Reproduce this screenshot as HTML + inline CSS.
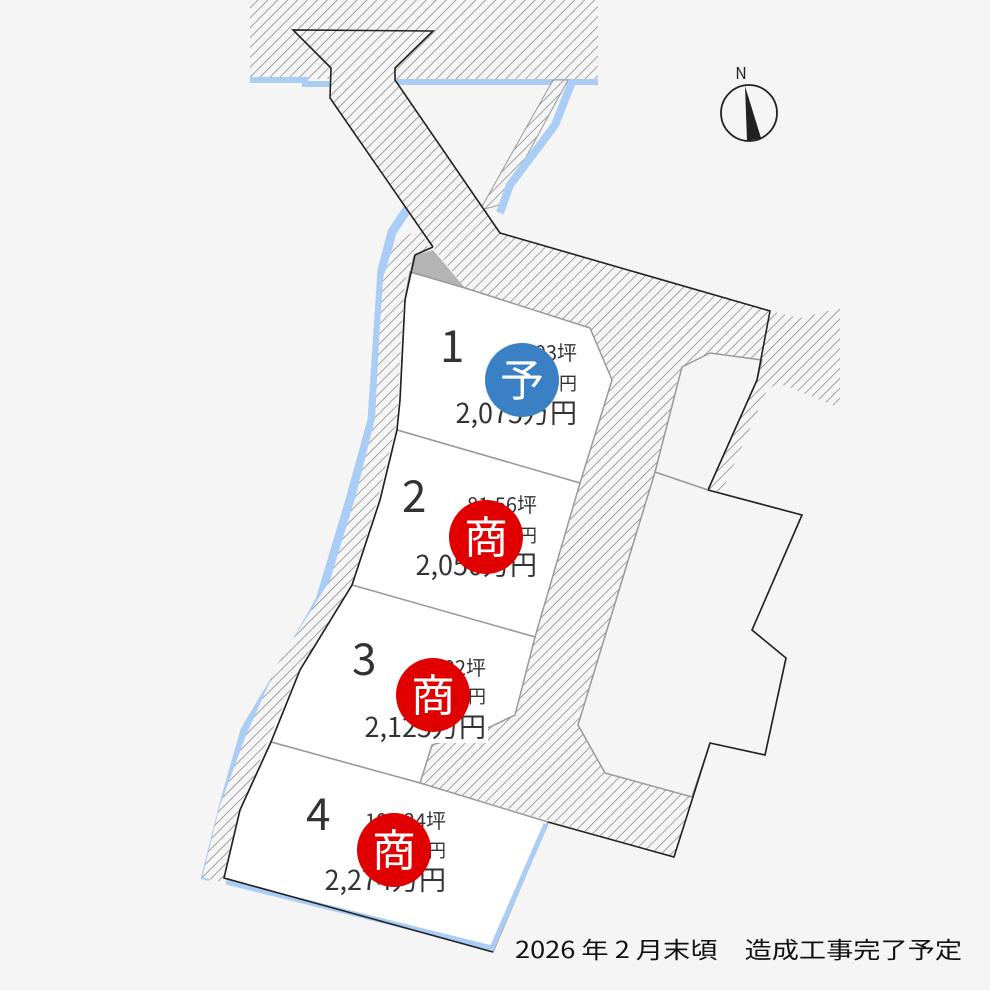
<!DOCTYPE html>
<html><head><meta charset="utf-8"><style>
html,body{margin:0;padding:0;background:#f5f5f5;}
svg{display:block;}
text{font-family:"Noto Sans CJK JP","Liberation Sans",sans-serif;}
</style></head><body>
<svg width="990" height="990" viewBox="0 0 990 990" xmlns="http://www.w3.org/2000/svg">
<defs>
<pattern id="h" width="7" height="7" patternUnits="userSpaceOnUse" patternTransform="rotate(45)">
<rect width="7" height="7" fill="#f5f5f5"/>
<line x1="0" y1="0" x2="0" y2="7" stroke="#8e8e8e" stroke-width="1.6"/>
</pattern>
</defs>
<rect width="990" height="990" fill="#f5f5f5"/>
<rect x="250" y="0" width="348" height="79" fill="url(#h)"/>
<polyline points="250,80 305,80 305,84 330,84" fill="none" stroke="#aacdf5" stroke-width="6"/>
<line x1="395" y1="82" x2="598" y2="82" stroke="#aacdf5" stroke-width="6"/>
<polygon points="553,80 568,80 500,205 480,210" fill="url(#h)" stroke="#999" stroke-width="1"/>
<polyline points="572,82 555,125 510,185 500,213" fill="none" stroke="#aacdf5" stroke-width="8"/>
<polyline points="410,205 392,232 382,270 378,330 372,420 350,500 320,600 275,680 245,730 225,800 205,880" fill="none" stroke="#aacdf5" stroke-width="9"/>
<polyline points="425,240 404,248 394,280 390,340 386,420 366,500 340,585 288,668 256,740 230,810 213,880" fill="none" stroke="url(#h)" stroke-width="22"/>
<polygon points="293,30 433,31 395,68 395,80 500,233 770,311 757,380 708,490 655,472 578,725 605,773 692,797 674,857 420,783 432,745 490,727 515,715 535,637 580,483 612,380 590,328 465,288 433,247 330,98 331,68" fill="url(#h)"/>
<polygon points="770,311 800,318 840,308 840,408 780,384 768,388 722,492 708,490 757,380" fill="url(#h)"/>
<polygon points="682,367 710,353 762,360 757,380 708,490 802,515 752,630 786,658 765,755 710,743 692,797 605,773 578,725 655,472" fill="#f5f5f5" stroke="#999" stroke-width="1.5"/>
<polygon points="413,256 433,250 465,288 410,272" fill="#b4b4b4"/>
<polygon points="410,272 465,288 590,328 612,380 580,483 397,430 400,400 405,300" fill="#fff" stroke="#999" stroke-width="1.5"/>
<polygon points="397,430 580,483 535,637 352,585 380,500" fill="#fff" stroke="#999" stroke-width="1.5"/>
<polygon points="352,585 535,637 515,715 490,727 432,745 420,783 271,742 300,670" fill="#fff" stroke="#999" stroke-width="1.5"/>
<polygon points="271,742 420,783 548,822 493,952 224,878 240,810" fill="#fff" stroke="#999" stroke-width="1.5"/>
<polyline points="226,882 492,948 546,824" fill="none" stroke="#aacdf5" stroke-width="5"/>
<g fill="none" stroke="#222" stroke-width="1.6">
<polyline points="433,247 330,98 331,68 293,30 433,31 395,68 395,80 500,233 770,311 757,380 708,490 802,515 752,630 786,658 765,755 710,743 692,800 674,857 548,822"/>
<polyline points="433,247 415,255 405,300 400,400 397,430 380,500 352,585 300,670 271,742 240,810 224,878 493,952"/>
</g>
<line x1="655" y1="472" x2="708" y2="490" stroke="#999" stroke-width="1.5"/>
<g fill="#333">
<text x="440" y="362" font-size="44">1</text>
<text x="577" y="360" font-size="20" text-anchor="end">80.03坪</text>
<text x="577" y="390" font-size="18" text-anchor="end">2,180万円</text>
<text x="577" y="423" font-size="27" text-anchor="end">2,075万円</text>
<text x="402" y="512" font-size="44">2</text>
<text x="537" y="512" font-size="20" text-anchor="end">81.56坪</text>
<text x="537" y="542" font-size="18" text-anchor="end">2,150万円</text>
<text x="537" y="575" font-size="27" text-anchor="end">2,050万円</text>
<text x="352" y="675" font-size="44">3</text>
<rect x="366" y="713" width="122" height="30" fill="#fff"/>
<text x="486" y="675" font-size="20" text-anchor="end">84.02坪</text>
<text x="486" y="703" font-size="18" text-anchor="end">2,230万円</text>
<text x="486" y="737" font-size="27" text-anchor="end">2,125万円</text>
<text x="306" y="830" font-size="44">4</text>
<text x="446" y="828" font-size="20" text-anchor="end">102.24坪</text>
<text x="446" y="857" font-size="18" text-anchor="end">2,380万円</text>
<text x="446" y="890" font-size="27" text-anchor="end">2,274万円</text>
</g>
<circle cx="522" cy="380" r="37" fill="#3a80c4"/>
<text x="522" y="396" font-size="44" fill="#fff" text-anchor="middle">予</text>
<circle cx="486" cy="537" r="37" fill="#e00000"/>
<text x="486" y="553" font-size="44" fill="#fff" text-anchor="middle">商</text>
<circle cx="433" cy="695" r="37" fill="#e00000"/>
<text x="433" y="711" font-size="44" fill="#fff" text-anchor="middle">商</text>
<circle cx="394" cy="850" r="37" fill="#e00000"/>
<text x="394" y="866" font-size="44" fill="#fff" text-anchor="middle">商</text>
<circle cx="749" cy="113" r="28" fill="none" stroke="#222" stroke-width="1.8"/>
<polygon points="745,86 761,138 747,141" fill="#222"/>
<text x="741" y="79" font-size="16" fill="#222" text-anchor="middle">N</text>
<text x="515" y="958" font-size="23" fill="#111" textLength="447" lengthAdjust="spacingAndGlyphs">2026 年 2 月末頃　造成工事完了予定</text>
</svg>
</body></html>
